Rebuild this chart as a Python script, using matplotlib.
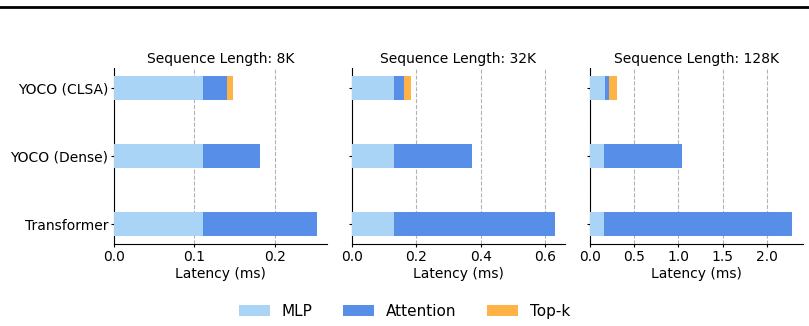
import matplotlib
matplotlib.use("Agg")
from matplotlib import pyplot as plt
import numpy as np

models = ['Transformer', 'YOCO (Dense)', 'YOCO (CLSA)']
seq_titles = ['Sequence Length: 8K', 'Sequence Length: 32K', 'Sequence Length: 128K']
components = ['MLP', 'Attention', 'Top-k']

# latency (ms) per model, order: Transformer, YOCO (Dense), YOCO (CLSA)
mlp_8k = [0.111, 0.111, 0.111]
attn_8k = [0.141, 0.070, 0.029]
topk_8k = [0.0, 0.0, 0.008]

mlp_32k = [0.131, 0.131, 0.131]
attn_32k = [0.498, 0.243, 0.031]
topk_32k = [0.0, 0.0, 0.022]

mlp_128k = [0.162, 0.162, 0.172]
attn_128k = [2.124, 0.881, 0.046]
topk_128k = [0.0, 0.0, 0.090]

x_ticks = [[0.0, 0.1, 0.2], [0.0, 0.2, 0.4, 0.6], [0.0, 0.5, 1.0, 1.5, 2.0]]

colors = ['#a9d4f5', '#568ee8', '#ffb347']


def main():
    data = [(mlp_8k, attn_8k, topk_8k),
            (mlp_32k, attn_32k, topk_32k),
            (mlp_128k, attn_128k, topk_128k)]

    fig = plt.figure(figsize=(8.09, 3.26), dpi=100)
    lefts = [0.141, 0.435, 0.729]
    width = 0.263
    axes = []
    for i, left in enumerate(lefts):
        ax = fig.add_axes([left, 0.2515, width, 0.5395])
        axes.append(ax)
        y = np.arange(len(models))
        base = np.zeros(len(models))
        for vals, c, name in zip(data[i], colors, components):
            ax.barh(y, vals, left=base, height=0.35, color=c, label=name, zorder=3)
            base = base + np.array(vals)
        ax.set_xlim(0, base.max() * 1.05)
        ax.set_yticks(y)
        if i == 0:
            ax.set_yticklabels(models, fontsize=10)
        else:
            ax.set_yticklabels([])
        ax.set_xticks(x_ticks[i])
        ax.tick_params(axis='both', length=2.5, pad=1.8)
        ax.tick_params(axis='x', labelsize=10)
        ax.set_xlabel('Latency (ms)', fontsize=10, labelpad=2)
        ax.set_title(seq_titles[i], fontsize=10, pad=4)
        ax.grid(axis='x', linestyle='--', color='gray', alpha=0.6, linewidth=0.8, zorder=0)
        ax.spines['top'].set_visible(False)
        ax.spines['right'].set_visible(False)

    handles, labels = axes[0].get_legend_handles_labels()
    fig.legend(handles, labels, loc='center', bbox_to_anchor=(0.5, 0.045), ncol=3,
               frameon=False, fontsize=11, columnspacing=2.0)

    fig.add_artist(plt.Line2D([0, 1], [0.979, 0.979], color='black', linewidth=2,
                              transform=fig.transFigure))

    fig.savefig('out.png', dpi=100)


if __name__ == "__main__":
    main()
